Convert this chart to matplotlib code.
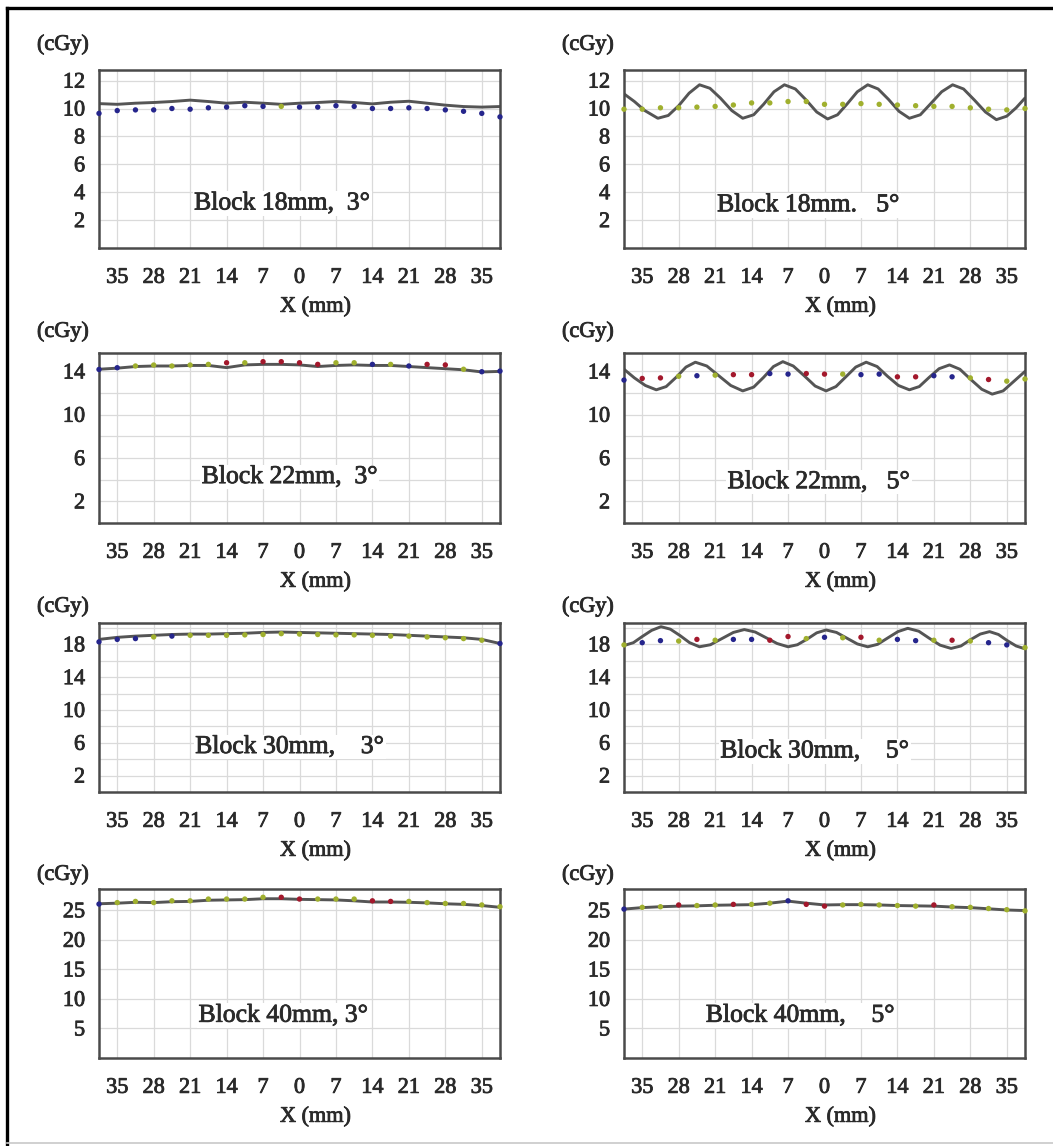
import matplotlib
matplotlib.use("Agg")
import matplotlib.pyplot as plt
import matplotlib.patheffects as pe
from matplotlib.lines import Line2D

plt.rcParams.update({
    "font.family": "Liberation Serif",
    "font.size": 16,
    "text.color": "#2a2a2a",
    "xtick.color": "#2a2a2a",
    "ytick.color": "#2a2a2a",
})

TEXT = "#2a2a2a"
COL_LINE = "#555555"
COL_GRID = "#dadada"
COL_SPINE = "#4a4a4a"
DOT_COLORS = {"b": "#25258c", "r": "#a3182c", "g": "#a0b02e"}
# slight stroke so the serif text looks as heavy as the scanned original
HEAVY = [pe.withStroke(linewidth=0.6, foreground=TEXT)]

# measured positions (mm) of the dots
DOT_X = [-38.5, -35, -31.5, -28, -24.5, -21, -17.5, -14, -10.5, -7, -3.5, 0,
         3.5, 7, 10.5, 14, 17.5, 21, 24.5, 28, 31.5, 35, 38.5]
TICK_X = [-35, -28, -21, -14, -7, 0, 7, 14, 21, 28, 35]
TICK_X_LABELS = ["35", "28", "21", "14", "7", "0", "7", "14", "21", "28", "35"]

# --- block 18mm, 3 deg
B18_3_DOTS = [9.65, 9.85, 9.9, 9.9, 10.0, 9.95, 10.05, 10.1, 10.2, 10.15, 10.15, 10.1,
              10.1, 10.2, 10.15, 10.0, 10.0, 10.05, 10.0, 9.9, 9.8, 9.65, 9.4]
B18_3_COLS = "bbbbbbbbbbgbbbbbbbbbbbb"
B18_3_LINE = [10.35, 10.3, 10.38, 10.43, 10.5, 10.6, 10.5, 10.38, 10.45, 10.38, 10.3, 10.38,
              10.43, 10.5, 10.43, 10.33, 10.45, 10.52, 10.38, 10.24, 10.14, 10.1, 10.14]

# --- block 18mm, 5 deg
B18_5_DOTS = [9.95, 9.95, 10.05, 10.05, 10.1, 10.15, 10.25, 10.4, 10.4, 10.5, 10.5, 10.3,
              10.3, 10.35, 10.3, 10.25, 10.2, 10.15, 10.15, 10.05, 9.95, 9.9, 10.0]
B18_5_COLS = "ggggggggggggggggggggggg"
B18_5_LINE_X = [-38.5, -36.5, -34.5, -32.0, -30.0, -28.0, -26.0, -24.0, -22.0, -20.0,
                -17.8, -15.7, -13.6, -11.7, -9.7, -7.7, -5.6, -3.5, -1.5, 0.6,
                2.5, 4.4, 6.3, 8.3, 10.3, 12.3, 14.3, 16.3, 18.4, 20.4,
                22.5, 24.6, 26.7, 28.8, 30.9, 33.0, 35.0, 36.8, 38.5]
B18_5_LINE = [11.05, 10.5, 9.85, 9.3, 9.5, 10.2, 11.1, 11.7, 11.45, 10.75,
              9.85, 9.3, 9.55, 10.3, 11.2, 11.7, 11.4, 10.6, 9.75, 9.25,
              9.55, 10.35, 11.2, 11.7, 11.4, 10.65, 9.8, 9.3, 9.55, 10.35,
              11.2, 11.7, 11.4, 10.6, 9.75, 9.2, 9.45, 10.05, 10.75]

# --- block 22mm, 3 deg
B22_3_DOTS = [14.18, 14.34, 14.5, 14.59, 14.5, 14.59, 14.65, 14.8, 14.8, 14.9, 14.9, 14.8,
              14.65, 14.8, 14.8, 14.65, 14.65, 14.5, 14.65, 14.6, 14.2, 13.97, 14.03]
B22_3_COLS = "bbgggggrgrrrrggbgbrrgbb"
B22_3_LINE = [14.2, 14.3, 14.45, 14.5, 14.5, 14.55, 14.55, 14.35, 14.6, 14.65, 14.65, 14.6,
              14.45, 14.55, 14.6, 14.55, 14.55, 14.45, 14.35, 14.25, 14.15, 13.95, 14.0]

# --- block 22mm, 5 deg
B22_5_DOTS = [13.2, 13.35, 13.4, 13.55, 13.6, 13.65, 13.7, 13.7, 13.8, 13.75, 13.8, 13.75,
              13.75, 13.7, 13.75, 13.5, 13.5, 13.6, 13.5, 13.4, 13.25, 13.1, 13.3]
B22_5_COLS = "brrgbgrrbbrrgbbrrbbgrgg"
B22_5_LINE_X = [-38.5, -36.5, -34.4, -32.3, -30.4, -28.5, -26.6, -24.8, -22.6, -20.3,
                -18.0, -15.7, -13.6, -11.7, -9.8, -8.0, -6.0, -3.9, -1.8, 0.3,
                2.2, 4.1, 6.0, 8.0, 10.1, 12.1, 14.2, 16.3, 18.2, 20.1,
                22.0, 24.0, 26.0, 28.1, 30.2, 32.2, 34.3, 36.4, 38.5]
B22_5_LINE = [14.2, 13.4, 12.7, 12.3, 12.6, 13.45, 14.4, 14.85, 14.5, 13.6,
              12.7, 12.2, 12.55, 13.45, 14.45, 14.9, 14.5, 13.6, 12.65, 12.2,
              12.6, 13.5, 14.4, 14.85, 14.45, 13.55, 12.7, 12.3, 12.6, 13.45,
              14.25, 14.6, 14.2, 13.25, 12.35, 11.9, 12.2, 13.1, 14.0]

# --- block 30mm, 3 deg
B30_3_DOTS = [18.3, 18.6, 18.7, 18.9, 19.0, 19.1, 19.1, 19.1, 19.15, 19.2, 19.3, 19.25,
              19.2, 19.15, 19.15, 19.1, 19.0, 19.0, 18.9, 18.8, 18.7, 18.5, 18.1]
B30_3_COLS = "bbbgbgggggggggggggggggbb"
B30_3_LINE = [18.6, 18.85, 19.0, 19.1, 19.2, 19.25, 19.25, 19.3, 19.35, 19.45, 19.5, 19.45,
              19.4, 19.35, 19.3, 19.25, 19.2, 19.1, 19.0, 18.9, 18.8, 18.6, 18.1]

# --- block 30mm, 5 deg
B30_5_DOTS = [17.93, 18.2, 18.45, 18.4, 18.6, 18.5, 18.6, 18.6, 18.5, 18.95, 18.7, 18.86,
              18.8, 18.86, 18.5, 18.6, 18.45, 18.5, 18.5, 18.4, 18.2, 17.93, 17.6]
B30_5_COLS = "gbbgrgbbrrgbgrgbbgrgbbg"
B30_5_LINE_X = [-38.5, -36.7, -35.0, -33.2, -31.4, -29.6, -27.7, -25.9, -24.0, -21.9,
                -19.7, -17.5, -15.4, -13.3, -11.2, -9.1, -7.0, -5.2, -3.3, -1.5,
                0.3, 2.3, 4.3, 6.3, 8.3, 10.2, 12.2, 14.1, 16.0, 18.1,
                20.1, 22.2, 24.3, 26.2, 28.0, 29.9, 31.7, 33.4, 35.1, 36.8, 38.5]
B30_5_LINE = [17.85, 18.2, 18.95, 19.7, 20.15, 19.85, 19.05, 18.2, 17.7, 17.95,
              18.7, 19.45, 19.8, 19.5, 18.8, 18.1, 17.7, 17.95, 18.65, 19.4,
              19.75, 19.45, 18.75, 18.05, 17.7, 18.0, 18.8, 19.55, 19.95, 19.6,
              18.75, 17.9, 17.5, 17.8, 18.55, 19.25, 19.55, 19.2, 18.45, 17.8, 17.45]

# --- block 40mm, 3 deg
B40_3_DOTS = [26.05, 26.3, 26.5, 26.3, 26.6, 26.6, 26.9, 26.9, 26.9, 27.2, 27.2, 26.9,
              26.9, 26.9, 26.9, 26.6, 26.5, 26.5, 26.3, 26.15, 26.15, 25.9, 25.6]
B40_3_COLS = "bgggggggggrrgggrrgggggggb"
B40_3_LINE = [26.1, 26.2, 26.35, 26.3, 26.45, 26.5, 26.7, 26.75, 26.8, 26.95, 26.95, 26.85,
              26.8, 26.75, 26.6, 26.4, 26.4, 26.35, 26.25, 26.1, 26.0, 25.8, 25.5]

# --- block 40mm, 5 deg
B40_5_DOTS = [25.2, 25.5, 25.6, 25.9, 25.8, 25.9, 26.0, 26.0, 26.2, 26.6, 26.0, 25.7,
              25.9, 26.0, 25.9, 25.8, 25.7, 25.9, 25.6, 25.5, 25.3, 25.1, 24.9]
B40_5_COLS = "bggrggrggbrrgggggrggggg"
B40_5_LINE = [25.2, 25.45, 25.6, 25.7, 25.75, 25.85, 25.9, 25.95, 26.2, 26.55, 26.2, 25.9,
              25.95, 25.95, 25.9, 25.8, 25.75, 25.7, 25.55, 25.45, 25.25, 25.05, 24.95]

# per row: y range, labelled ticks, grid lines
ROW_YMAX = [12.76, 15.7, 20.6, 28.6]
ROW_YTICKS = [[2, 4, 6, 8, 10, 12], [2, 6, 10, 14], [2, 6, 10, 14, 18], [5, 10, 15, 20, 25]]
ROW_YGRID = [[2, 4, 6, 8, 10, 12], [2, 4, 6, 8, 10, 12, 14],
             [2, 4, 6, 8, 10, 12, 14, 16, 18, 20], [5, 10, 15, 20, 25]]

PANELS = [
    # row, col, dots, colours, line x, line y, label, label pos (axes frac)
    (0, 0, B18_3_DOTS, B18_3_COLS, DOT_X, B18_3_LINE, "Block 18mm,  3°", (0.457, 0.25)),
    (0, 1, B18_5_DOTS, B18_5_COLS, B18_5_LINE_X, B18_5_LINE, "Block 18mm.   5°", (0.46, 0.24)),
    (1, 0, B22_3_DOTS, B22_3_COLS, DOT_X, B22_3_LINE, "Block 22mm,  3°", (0.476, 0.27)),
    (1, 1, B22_5_DOTS, B22_5_COLS, B22_5_LINE_X, B22_5_LINE, "Block 22mm,   5°", (0.486, 0.24)),
    (2, 0, B30_3_DOTS, B30_3_COLS, DOT_X, B30_3_LINE, "Block 30mm,    3°", (0.476, 0.266)),
    (2, 1, B30_5_DOTS, B30_5_COLS, B30_5_LINE_X, B30_5_LINE, "Block 30mm,    5°", (0.476, 0.24)),
    (3, 0, B40_3_DOTS, B40_3_COLS, DOT_X, B40_3_LINE, "Block 40mm, 3°", (0.46, 0.25)),
    (3, 1, B40_5_DOTS, B40_5_COLS, DOT_X, B40_5_LINE, "Block 40mm,    5°", (0.44, 0.25)),
]

# layout in pixels of the 1053 x 1146 canvas
W, H = 1053, 1146
COL_LEFT = [99, 624]
AX_W = 401
ROW_TOP = [70, 353, 623, 889]
ROW_BOT = [248, 523, 792, 1058]
CGY_ABOVE = [25, 21, 16, 14]   # px from axes top to centre of "(cGy)"

fig = plt.figure(figsize=(W / 100, H / 100), dpi=100)

for row, col, dots, cols, lx, ly, label, (tx, ty) in PANELS:
    ax_h = ROW_BOT[row] - ROW_TOP[row]
    ax = fig.add_axes([COL_LEFT[col] / W, 1 - ROW_BOT[row] / H, AX_W / W, ax_h / H])

    ax.set_xlim(-38.5, 38.5)
    ax.set_ylim(0, ROW_YMAX[row])

    # grid
    for gx in TICK_X:
        ax.axvline(gx, color=COL_GRID, lw=0.9, zorder=0)
    for gy in ROW_YGRID[row]:
        ax.axhline(gy, color=COL_GRID, lw=0.9, zorder=0)

    ax.plot(lx, ly, color=COL_LINE, lw=2.1, zorder=2,
            solid_capstyle="round", solid_joinstyle="round")
    ax.scatter(DOT_X, dots, s=15, c=[DOT_COLORS[c] for c in cols[:len(dots)]],
               linewidths=0, zorder=3, clip_on=False)

    ax.set_xticks(TICK_X)
    ax.set_xticklabels(TICK_X_LABELS)
    ax.set_yticks(ROW_YTICKS[row])
    ax.tick_params(axis="x", length=0, pad=15, labelsize=16)
    ax.tick_params(axis="y", length=0, pad=10, labelsize=16)
    ax.set_xlabel("X (mm)", fontsize=16, color=TEXT, labelpad=7, x=0.54)
    for t in ax.get_xticklabels() + ax.get_yticklabels() + [ax.xaxis.label]:
        t.set_path_effects(HEAVY)

    for sp in ax.spines.values():
        sp.set_color(COL_SPINE)
        sp.set_linewidth(1.8)

    ax.text(-0.09, 1 + CGY_ABOVE[row] / ax_h, "(cGy)", transform=ax.transAxes,
            ha="center", va="center", fontsize=16, color=TEXT, path_effects=HEAVY)
    ax.text(tx, ty, label, transform=ax.transAxes, ha="center", va="center",
            fontsize=18.5, color=TEXT, zorder=4, path_effects=HEAVY,
            bbox=dict(facecolor="white", edgecolor="none", pad=1.0))

# outer frame of the figure
fig.add_artist(Line2D([7 / W, 1], [1 - 8 / H, 1 - 8 / H], color="black", lw=2.4))
fig.add_artist(Line2D([7 / W, 7 / W], [0, 1 - 8 / H], color="black", lw=2.4))
fig.add_artist(Line2D([7 / W, 1], [3 / H, 3 / H], color="#c8c8c8", lw=1.2))

fig.savefig("out.png", dpi=100)
